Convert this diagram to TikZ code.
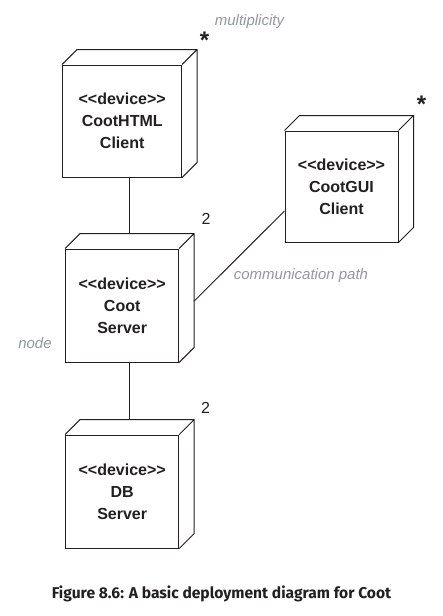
\documentclass[tikz,border=0pt]{standalone}
\usepackage{fontspec}
\setmainfont{Liberation Sans}
\newfontfamily\capfont{Fira Sans}
\usetikzlibrary{positioning}
\definecolor{inkcolor}{RGB}{35,31,32}
\definecolor{notegray}{RGB}{145,150,160}
\newcommand{\stereo}[1]{<\kern0pt<#1>\kern0pt>}

\begin{document}
\begin{tikzpicture}[x=1pt,y=-1pt,
device/.style={draw=inkcolor,line width=1pt,minimum width=113pt,minimum height=113pt,align=center,text=inkcolor,font=\fontsize{16}{22}\selectfont\bfseries},
conn/.style={draw=inkcolor,line width=1pt},
note/.style={text=notegray,font=\fontsize{15}{18}\selectfont\itshape,anchor=base,inner sep=0pt},
mult/.style={text=inkcolor,font=\fontsize{16}{18}\selectfont,inner sep=0pt},
star/.style={text=inkcolor,font=\fontsize{24}{24}\selectfont\bfseries,anchor=base,inner sep=0pt}]
\useasboundingbox (0,0) rectangle (443,616);
% devices
\node[device,minimum width=119pt,minimum height=112pt] (html) at (122.2,121) {\stereo{device}\\CootHTML\\Client};
\node[device,below=71pt of html] (server) {\stereo{device}\\Coot\\Server};
\node[device,below=72pt of server] (db) {\stereo{device}\\DB\\Server};
\node[device,minimum height=111pt] (gui) at (341.5,186.5) {\stereo{device}\\CootGUI\\Client};
% 3d faces
\foreach \n in {html,server,db,gui}
  \draw[inkcolor,line width=1pt] (\n.north west) -- ++(15pt,15pt) -| ([shift={(15pt,15pt)}]\n.south east) -- (\n.south east)
    (\n.north east) -- ++(15pt,15pt);
% communication paths
\draw[conn] ([xshift=7.5pt]html.south) -- ([xshift=7.5pt,yshift=15pt]server.north);
\draw[conn] ([xshift=7.5pt]server.south) -- ([xshift=7.5pt,yshift=15pt]db.north);
\draw[conn] ([shift={(15pt,4.5pt)}]server.east) -- ([yshift=-24.5pt]gui.west);
% multiplicities
\node[star] (htmlstar) at (204.5,48.7) {*};
\node[star] (guistar) at (421.5,112.7) {*};
\node[mult] (servermult) at (206,219) {2};
\node[mult] (dbmult) at (205.5,407.5) {2};
% notes
\node[note] (multnote) at (249.5,25) {multiplicity};
\node[note] (pathnote) at (301,279) {communication path};
\node[note] (nodenote) at (35,348) {node};
% caption
\node[text=inkcolor,font=\capfont\bfseries\fontsize{15.6}{18}\selectfont,anchor=base] (caption) at (221.5,598) {Figure 8.6: A basic deployment diagram for Coot};
\end{tikzpicture}
\end{document}
